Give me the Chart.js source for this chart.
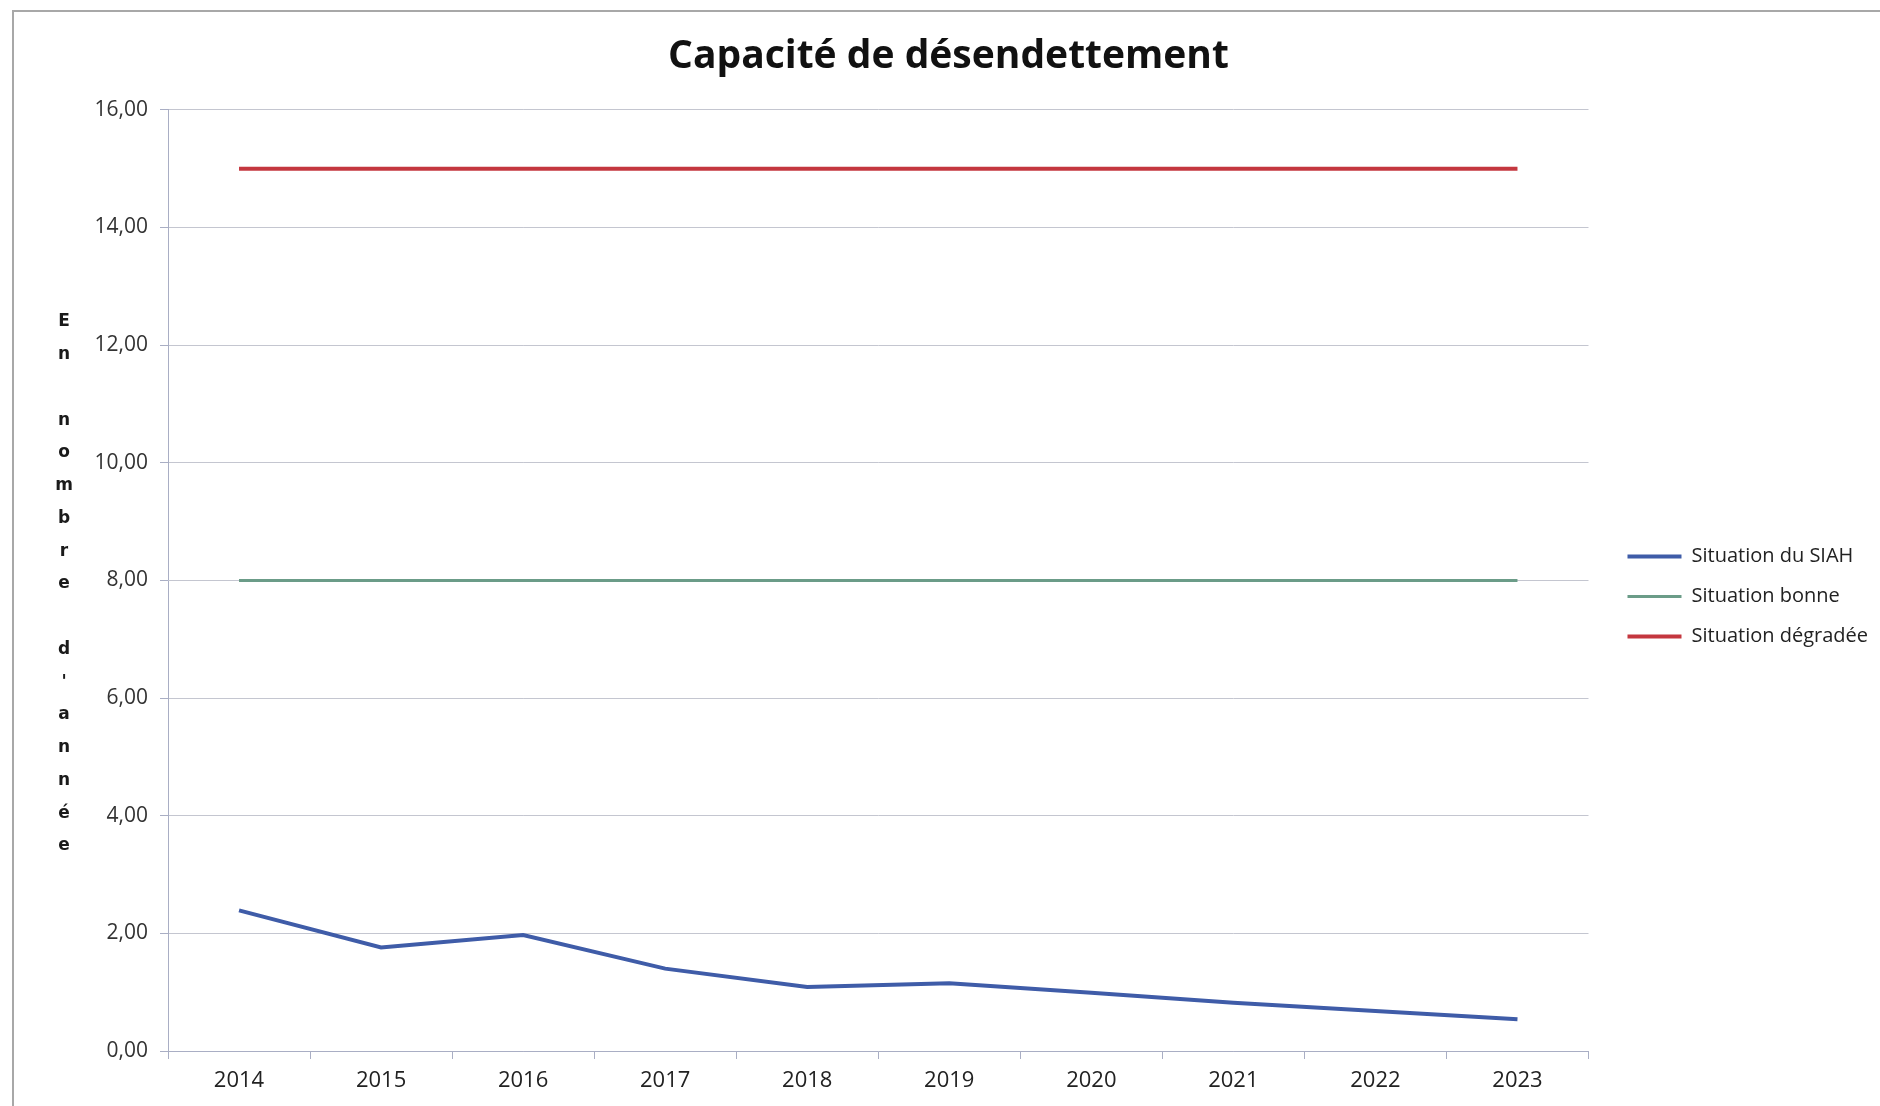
<!DOCTYPE html>
<html>
<head>
<meta charset="utf-8">
<script src="https://cdn.jsdelivr.net/npm/chart.js@4/dist/chart.umd.min.js"></script>
<style>
  html, body { margin: 0; padding: 0; background: #fff; }
  #frame {
    position: absolute; left: 12px; top: 10px;
    width: 1868px; height: 1096px;
    border-left: 2px solid #a8a8a8; border-top: 2px solid #a8a8a8;
  }
  #chart { display: block; }
</style>
</head>
<body>
<div id="frame"><canvas id="chart" width="1866" height="1094"></canvas></div>
<script>
// Capacité de désendettement
var years = ['2014', '2015', '2016', '2017', '2018', '2019', '2020', '2021', '2022', '2023'];
var siah = [2.39, 1.76, 1.97, 1.40, 1.09, 1.15, 0.99, 0.82, 0.68, 0.54];
var bonne = [8, 8, 8, 8, 8, 8, 8, 8, 8, 8];
var degradee = [15, 15, 15, 15, 15, 15, 15, 15, 15, 15];
var yTitle = 'En nombre d\'année';

var blue = '#3f5ca8',
    green = '#6b9c88',
    red = '#c4373f',
    grid = '#c4c6d0',
    axis = '#a9aec4';

// stacked letters for the y axis title, drawn upright like the original
var stackedTitle = {
    id: 'stackedTitle',
    afterDraw: function (chart) {
        var ctx = chart.ctx;
        var letters = yTitle.replace(/ /g, '\u00a0').split('');
        ctx.save();
        ctx.font = 'bold 17px "DejaVu Sans"';
        ctx.fillStyle = '#1a1a1a';
        ctx.textAlign = 'center';
        ctx.textBaseline = 'middle';
        for (var i = 0; i < letters.length; i++) {
            ctx.fillText(letters[i], 50, 310 + i * 32.75);
        }
        ctx.restore();
    }
};

// push the legend block down and a bit right, where Excel put it
var legendShift = {
    id: 'legendShift',
    afterLayout: function (chart) {
        var lg = chart.legend;
        lg.top += 40; lg.bottom += 40;
        lg.left += 19; lg.right += 19;
        var tb = chart.titleBlock;
        tb.left -= 8; tb.right -= 8;
    }
};

var ctx = document.getElementById('chart').getContext('2d');
var chart = new Chart(ctx, {
    type: 'line',
    data: {
        labels: years,
        datasets: [{
            label: 'Situation du SIAH',
            data: siah,
            borderColor: blue,
            backgroundColor: blue,
            borderWidth: 4,
            pointRadius: 0,
            tension: 0
        }, {
            label: 'Situation bonne',
            data: bonne,
            borderColor: green,
            backgroundColor: green,
            borderWidth: 3,
            pointRadius: 0
        }, {
            label: 'Situation dégradée',
            data: degradee,
            borderColor: red,
            backgroundColor: red,
            borderWidth: 4,
            pointRadius: 0
        }]
    },
    options: {
        responsive: false,
        animation: false,
        layout: { padding: { left: 40, right: 21, top: 0, bottom: 5 } },
        plugins: {
            title: {
                display: true,
                text: 'Capacité de désendettement',
                color: '#111',
                font: { family: '"Open Sans"', size: 39, weight: 'bold' },
                padding: { top: 21, bottom: 30 }
            },
            legend: {
                position: 'right',
                labels: {
                    usePointStyle: true,
                    pointStyle: 'line',
                    pointStyleWidth: 54,
                    color: '#222',
                    font: { family: '"Open Sans"', size: 20 },
                    padding: 20
                }
            },
            tooltip: { enabled: false }
        },
        scales: {
            x: {
                offset: true,
                grid: {
                    offset: true,
                    drawOnChartArea: false,
                    drawTicks: true,
                    tickLength: 8,
                    color: axis
                },
                border: { color: axis },
                ticks: {
                    color: '#222',
                    padding: 9,
                    maxRotation: 0,
                    font: { family: '"Open Sans"', size: 22 }
                },
                afterFit: function (scale) { scale.height = 50; }
            },
            y: {
                min: 0,
                max: 16,
                grid: {
                    color: grid,
                    tickLength: 8,
                    tickColor: axis
                },
                border: { color: axis },
                ticks: {
                    stepSize: 2,
                    color: '#333',
                    padding: 12,
                    font: { family: '"Open Sans"', size: 21 },
                    callback: function (v) { return v.toFixed(2).replace('.', ','); }
                },
                afterFit: function (scale) { scale.width = 114; }
            }
        }
    },
    plugins: [stackedTitle, legendShift]
});
</script>
</body>
</html>
